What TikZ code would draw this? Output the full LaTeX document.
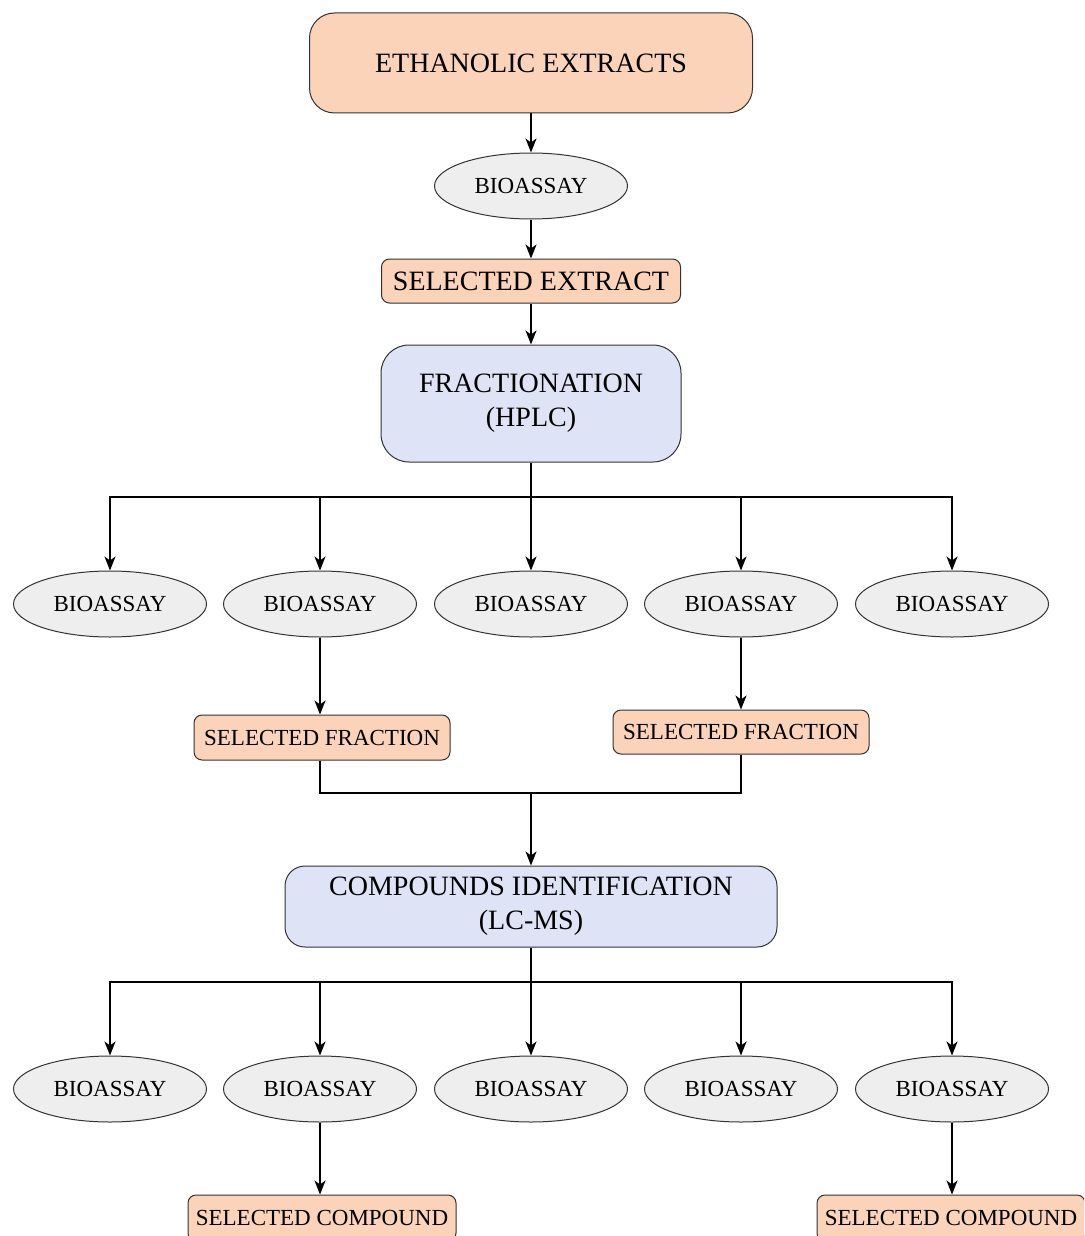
\documentclass[tikz,border=0pt]{standalone}
\usepackage{fontspec}
\setmainfont{Liberation Serif}
\usetikzlibrary{shapes.geometric,arrows.meta}
\definecolor{peach}{HTML}{FAD3B8}
\definecolor{lblue}{HTML}{DEE4F5}
\definecolor{lgray}{HTML}{EEEEEE}
\definecolor{edge}{HTML}{333333}
\tikzset{
  big/.style={font=\fontsize{28}{34}\selectfont},
  small/.style={font=\fontsize{23}{28}\selectfont},
  peachbox/.style={draw=edge, line width=1pt, fill=peach, inner sep=0pt, align=center},
  bluebox/.style={draw=edge, line width=1pt, fill=lblue, inner sep=0pt, align=center, big},
  assay/.style={ellipse, draw=edge, line width=1pt, fill=lgray, inner sep=0pt, minimum width=193pt, minimum height=66pt, small},
  arr/.style={-{Stealth[length=14pt,width=11pt,inset=4pt]}, line width=1.5pt},
  ln/.style={line width=1.5pt},
}
\begin{document}
\begin{tikzpicture}[x=1pt,y=-1pt]
\useasboundingbox (0,0) rectangle (1084,1236);
\clip (0,0) rectangle (1084,1236);
\node[peachbox, big, rounded corners=25pt, minimum width=443pt, minimum height=100pt] (eth) at (531,63) {ETHANOLIC EXTRACTS};
\node[assay] (ba0) at (531,186) {BIOASSAY};
\node[peachbox, big, rounded corners=8pt, minimum width=299pt, minimum height=44pt] (sel) at (531,281) {SELECTED EXTRACT};
\node[bluebox, rounded corners=28pt, minimum width=300pt, minimum height=117pt] (frac) at (531,403.5) {\raisebox{-2pt}{FRACTIONATION}\\\raisebox{-2pt}{(HPLC)}};

\coordinate (bus1) at (531,497);
\foreach \i/\x in {1/110,2/320,3/531,4/741,5/952}{
  \node[assay] (b\i) at (\x,604) {BIOASSAY};
}
\node[peachbox, small, rounded corners=8pt, minimum width=256pt, minimum height=45pt] (sf1) at (322,737.5) {SELECTED FRACTION};
\node[peachbox, small, rounded corners=8pt, minimum width=256pt, minimum height=44pt] (sf2) at (741,732) {SELECTED FRACTION};
\coordinate (m) at (531,793);
\node[bluebox, rounded corners=20pt, minimum width=492pt, minimum height=81pt] (comp) at (531,906.5) {\raisebox{-4pt}{COMPOUNDS IDENTIFICATION}\\\raisebox{-4pt}{(LC-MS)}};

\coordinate (bus2) at (531,982);
\foreach \i/\x in {1/110,2/320,3/531,4/741,5/952}{
  \node[assay] (c\i) at (\x,1089) {BIOASSAY};
}
\node[peachbox, small, rounded corners=8pt, minimum width=268pt, minimum height=46pt] (sc1) at (322,1218) {SELECTED COMPOUND};
\node[peachbox, small, rounded corners=8pt, minimum width=268pt, minimum height=46pt] (sc2) at (951,1218) {SELECTED COMPOUND};

\draw[arr] (eth) -- (ba0);
\draw[arr] (ba0) -- (sel);
\draw[arr] (sel) -- (frac);
\draw[ln] (frac) -- (bus1);
\foreach \i in {1,...,5}{ \draw[arr] (bus1) -| (b\i.north); }
\draw[arr] (b2) -- (b2 |- sf1.north);
\draw[arr] (b4) -- (sf2);
\draw[ln] (sf1.south -| b2) |- (m) -| (sf2.south);
\draw[arr] (m) -- (comp);
\draw[ln] (comp) -- (bus2);
\foreach \i in {1,...,5}{ \draw[arr] (bus2) -| (c\i.north); }
\draw[arr] (c2) -- (c2 |- sc1.north);
\draw[arr] (c5) -- (c5 |- sc2.north);
\end{tikzpicture}
\end{document}
